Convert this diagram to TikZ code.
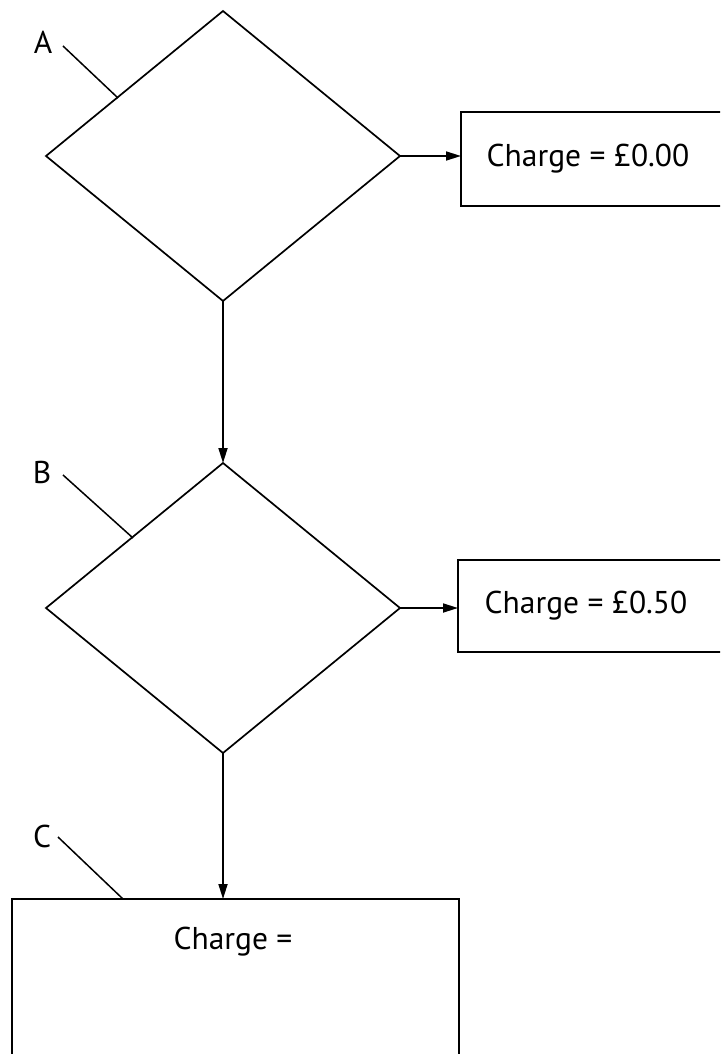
\documentclass[tikz,border=0pt]{standalone}
\usepackage{fontspec}
\setmainfont{PT Sans}
\usetikzlibrary{shapes.geometric,arrows.meta}
\begin{document}
\begin{tikzpicture}[x=1pt,y=-1pt,
  line width=1.7pt,
  decision/.style={diamond,draw,minimum width=354pt,minimum height=290pt,inner sep=0pt,outer sep=0pt},
  result/.style={rectangle,draw,inner sep=0pt,outer sep=0pt},
  lbl/.style={font=\fontsize{31.5}{36}\selectfont,inner sep=0pt},
  flow/.style={-{Triangle[length=15pt,width=9pt]}},
  tag/.style={line width=1.5pt}]
\clip (0,0) rectangle (720,1054);
\fill[white] (0,0) rectangle (720,1054);
% decisions
\node[decision] (dA) at (223,156) {};
\node[decision] (dB) at (223,608) {};
% result boxes
\node[result,minimum width=262pt,minimum height=94pt] (r1) at (592,159) {};
\node[lbl] (t1) at (588,159) {Charge = £0.00};
\node[result,minimum width=266pt,minimum height=92pt] (r2) at (591,606) {};
\node[lbl] (t2) at (586,606) {Charge = £0.50};
\node[result,minimum width=447pt,minimum height=220pt,anchor=north west] (r3) at (12,899) {};
\node[lbl] (t3) at (233,942) {Charge =};
% connectors
\draw[flow] (dA.east) -- (dA.east -| r1.west);
\draw[flow] (dB.east) -- (dB.east -| r2.west);
\draw[flow] (dA.south) -- (dB.north);
\draw[flow] (dB.south) -- (dB.south |- r3.north);
% tags
\node[lbl] (la) at (43,42) {A};
\node[lbl] (lb) at (42,472) {B};
\node[lbl] (lc) at (42,836) {C};
\coordinate (pa) at (118,98);
\coordinate (pb) at (133,538);
\coordinate (pc) at (123,899);
\draw[tag] (63,46) -- (pa);
\draw[tag] (63,475) -- (pb);
\draw[tag] (58,837) -- (pc);
\end{tikzpicture}
\end{document}
